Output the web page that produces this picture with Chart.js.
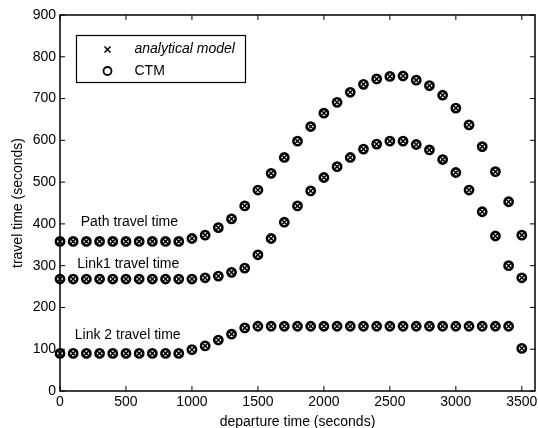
<!DOCTYPE html>
<html>
<head>
<meta charset="utf-8">
<script src="https://cdn.jsdelivr.net/npm/chart.js@4.4.1/dist/chart.umd.min.js"></script>
<style>
  html, body { margin: 0; padding: 0; background: #fff; }
</style>
</head>
<body>
<canvas id="tt" width="538" height="428"></canvas>
<script>
// departure times (s) and travel times (s)
const departure = [0, 100, 200, 300, 400, 500, 600, 700, 800, 900, 1000, 1100, 1200, 1300, 1400, 1500, 1600, 1700,
                   1800, 1900, 2000, 2100, 2200, 2300, 2400, 2500, 2600, 2700, 2800, 2900, 3000, 3100, 3200, 3300, 3400, 3500];
const pathTime  = [358, 358, 358, 358, 358, 358, 358, 358, 358, 358, 365, 373, 391, 412, 443, 481, 521, 559,
                   598, 633, 665, 691, 715, 734, 747, 753, 754, 744, 731, 708, 677, 637, 585, 525, 453, 373];
const link1Time = [268, 268, 268, 268, 268, 268, 268, 268, 268, 268, 268, 271, 275, 284, 294, 326, 365, 404,
                   443, 479, 511, 537, 559, 579, 591, 598, 598, 590, 577, 554, 523, 481, 429, 371, 300, 271];
const link2Time = [90, 90, 90, 90, 90, 90, 90, 90, 90, 90, 99, 108, 122, 136, 151, 155, 155, 155,
                   155, 155, 155, 155, 155, 155, 155, 155, 155, 155, 155, 155, 155, 155, 155, 155, 155, 102];

const xTickValues = [0, 500, 1000, 1500, 2000, 2500, 3000, 3500];
const yTickValues = [0, 100, 200, 300, 400, 500, 600, 700, 800, 900];

const seriesNames = ['Path travel time', 'Link1 travel time', 'Link 2 travel time'];
const seriesValues = [pathTime, link1Time, link2Time];

const FONT = "'Liberation Sans', Arial, Helvetica, sans-serif";

// curve labels, anchored in data units (left edge, vertical middle)
const curveLabels = [
  { text: seriesNames[0], x: 157, y: 405 },
  { text: seriesNames[1], x: 131, y: 304 },
  { text: seriesNames[2], x: 112, y: 134 }
];

const toPoints = vals => departure.map((d, i) => ({ x: d, y: vals[i] }));

const datasets = [];
seriesValues.forEach((vals, i) => {
  datasets.push({
    label: 'analytical model',
    series: seriesNames[i],
    data: toPoints(vals),
    pointStyle: 'crossRot',
    pointRadius: 3.6,
    pointBorderWidth: 1.5,
    pointBorderColor: '#000',
    pointBackgroundColor: 'rgba(0,0,0,0)',
    clip: false
  });
  datasets.push({
    label: 'CTM',
    series: seriesNames[i],
    data: toPoints(vals),
    pointStyle: 'circle',
    pointRadius: 4.1,
    pointBorderWidth: 2.6,
    pointBorderColor: '#000',
    pointBackgroundColor: 'rgba(0,0,0,0)',
    clip: false
  });
});

// box around the plot with inward tick marks on all four sides,
// x tick labels drawn here so the last one may hang past the frame
const frame = {
  id: 'frame',
  beforeDatasetsDraw(chart) {
    const { ctx, chartArea: a, scales } = chart;
    ctx.save();
    ctx.strokeStyle = '#000';
    ctx.lineWidth = 1.5;
    ctx.strokeRect(a.left, a.top, a.right - a.left, a.bottom - a.top);
    ctx.lineWidth = 1;
    const len = 5;
    ctx.beginPath();
    xTickValues.forEach(v => {
      const px = scales.x.getPixelForValue(v);
      ctx.moveTo(px, a.bottom); ctx.lineTo(px, a.bottom - len);
      ctx.moveTo(px, a.top); ctx.lineTo(px, a.top + len);
    });
    yTickValues.forEach(v => {
      const py = scales.y.getPixelForValue(v);
      ctx.moveTo(a.left, py); ctx.lineTo(a.left + len, py);
      ctx.moveTo(a.right, py); ctx.lineTo(a.right - len, py);
    });
    ctx.stroke();

    ctx.fillStyle = '#000';
    ctx.font = '14px ' + FONT;
    ctx.textAlign = 'center';
    ctx.textBaseline = 'middle';
    xTickValues.forEach(v => {
      ctx.fillText(String(v), scales.x.getPixelForValue(v), a.bottom + 11.5);
    });
    ctx.restore();
  },
  afterDatasetsDraw(chart) {
    const { ctx, scales } = chart;
    ctx.save();
    ctx.fillStyle = '#000';
    ctx.font = '14px ' + FONT;
    ctx.textAlign = 'left';
    ctx.textBaseline = 'middle';
    curveLabels.forEach(l => {
      ctx.fillText(l.text, scales.x.getPixelForValue(l.x), scales.y.getPixelForValue(l.y));
    });
    ctx.restore();
  }
};

// boxed legend in the upper left corner of the plot
const boxLegend = {
  id: 'boxLegend',
  afterDraw(chart) {
    const { ctx, chartArea: a } = chart;
    const seen = [];
    chart.data.datasets.forEach(ds => {
      if (!seen.find(s => s.label === ds.label)) seen.push(ds);
    });
    const x0 = a.left + 16.5, y0 = a.top + 20.5, w = 169, h = 47;
    ctx.save();
    ctx.fillStyle = '#fff';
    ctx.fillRect(x0, y0, w, h);
    ctx.strokeStyle = '#000';
    ctx.lineWidth = 1.2;
    ctx.strokeRect(x0, y0, w, h);
    seen.forEach((ds, i) => {
      const cy = y0 + 14 + i * 21.5;
      const cx = x0 + 31;
      ctx.beginPath();
      if (ds.pointStyle === 'crossRot') {
        ctx.lineWidth = 1.5;
        ctx.moveTo(cx - 3, cy - 3); ctx.lineTo(cx + 3, cy + 3);
        ctx.moveTo(cx + 3, cy - 3); ctx.lineTo(cx - 3, cy + 3);
      } else {
        ctx.lineWidth = 1.8;
        ctx.arc(cx, cy, 4, 0, Math.PI * 2);
      }
      ctx.stroke();
      ctx.fillStyle = '#000';
      ctx.font = (ds.pointStyle === 'crossRot' ? 'italic ' : '') + '14px ' + FONT;
      ctx.textAlign = 'left';
      ctx.textBaseline = 'middle';
      ctx.fillText(ds.label, x0 + 58, cy);
    });
    ctx.restore();
  }
};

new Chart(document.getElementById('tt'), {
  type: 'scatter',
  data: { datasets },
  plugins: [frame, boxLegend],
  options: {
    responsive: false,
    animation: false,
    events: [],
    layout: { autoPadding: false, padding: { top: 15, right: 3, bottom: 0, left: 0 } },
    plugins: { legend: { display: false }, tooltip: { enabled: false } },
    scales: {
      x: {
        type: 'linear',
        min: 0,
        max: 3600,
        afterBuildTicks: s => { s.ticks = xTickValues.map(v => ({ value: v })); },
        afterFit: s => { s.height = 37; },
        grid: { display: false, drawTicks: false },
        border: { display: false },
        ticks: { display: false },
        title: {
          display: true,
          text: 'departure time (seconds)',
          color: '#000',
          font: { family: FONT, size: 14, lineHeight: 0.9 },
          padding: 0
        }
      },
      y: {
        min: 0,
        max: 900,
        afterBuildTicks: s => { s.ticks = yTickValues.map(v => ({ value: v })); },
        afterFit: s => { s.width = 60; },
        grid: { display: false, drawTicks: false },
        border: { display: false },
        ticks: { color: '#000', font: { family: FONT, size: 14 }, padding: 4, autoSkip: false },
        title: {
          display: true,
          text: 'travel time (seconds)',
          color: '#000',
          font: { family: FONT, size: 14 },
          padding: { top: 9.5, bottom: 0 }
        }
      }
    }
  }
});
</script>
</body>
</html>
